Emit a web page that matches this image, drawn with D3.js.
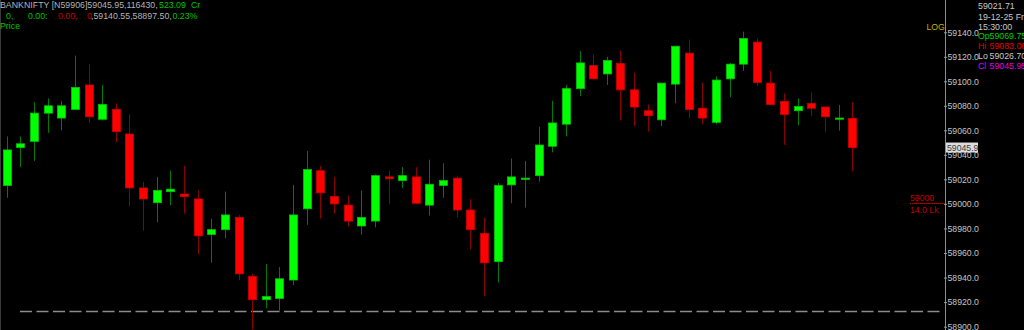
<!DOCTYPE html>
<html>
<head>
<meta charset="utf-8">
<script src="https://cdn.jsdelivr.net/npm/d3@7"></script>
<style>
  html, body { margin: 0; padding: 0; background: #000; }
  svg { display: block; }
  text { font-family: "Liberation Sans", Arial, sans-serif; }
</style>
</head>
<body>
<script>
// 5 minute candles, BANKNIFTY 19-12-25
var opens = [59015, 59046, 59051, 59074, 59070, 59077, 59097, 59069, 59077, 59057,
  59013, 59001, 59010, 59008, 59004, 58975, 58979, 58989, 58941, 58922,
  58923, 58938, 58996, 59027, 59006, 58999, 58982, 58986, 59022, 59019,
  59022, 58999, 59015, 59021, 58995, 58976, 58953, 59015.5, 59020, 59023,
  59047, 59065, 59094, 59113, 59106, 59114.5, 59093, 59076, 59068.6, 59097.7,
  59123, 59078, 59066.5, 59102, 59114, 59132, 59098.5, 59083.6, 59076, 59082,
  59079, 59069, 59069.75];
var highs = [59055, 59055, 59083, 59086, 59084, 59121, 59114, 59097, 59082, 59073,
  59018, 59022, 59027, 59031, 59011, 58988, 59010, 58991, 58943, 58951,
  58948.5, 59015.5, 59043, 59031, 59022, 59007, 59011, 59024, 59027, 59030,
  59030, 59036, 59033, 59023, 59004, 58989, 59017, 59037, 59035, 59063,
  59084, 59097, 59124.5, 59122, 59120, 59125, 59107, 59081, 59098.5, 59128.6,
  59134, 59099, 59104, 59115, 59140.55, 59135, 59108.5, 59090, 59086, 59091,
  59079, 59080.6, 59083];
var lows = [59005, 59030, 59035, 59058, 59060, 59077, 59066, 59068, 59050, 58998,
  58978, 58985, 58999, 58992, 58959, 58952, 58972, 58938, 58897.5, 58915,
  58913, 58934, 58983, 58988, 58992, 58981.5, 58975, 58981, 59000, 59013,
  59000, 58990.5, 59005, 58989, 58963, 58925, 58936, 59000.5, 58997, 59018,
  59042, 59055, 59088, 59102, 59097, 59068, 59063.5, 59059, 59063.5, 59082,
  59070, 59065, 59065, 59087, 59108.5, 59096, 59081, 59048, 59064, 59071.6,
  59058.6, 59059.7, 59026.7];
var closes = [59044, 59049, 59074, 59080, 59080, 59095, 59071, 59081, 59059, 59013,
  59004, 59011, 59012, 59006, 58974, 58979, 58991, 58943, 58922, 58924.5,
  58939, 58991, 59028, 59009, 59000, 58986, 58989, 59023, 59020.5, 59023,
  59000.5, 59016, 59019, 58995, 58979, 58952, 59015, 59022, 59021, 59048,
  59066, 59094, 59115, 59102, 59117, 59093, 59079, 59072, 59098.5, 59128.6,
  59077, 59070, 59101, 59114, 59135, 59099, 59081, 59073, 59079.5, 59078,
  59071, 59070, 59045.95];

// candle start times (10:15 .. 15:25)
var times = opens.map(function(d, i) {
  return d3.timeFormat("%H:%M")(new Date(2025, 11, 19, 10, 15 + 5 * i));
});

var priceTicks = [58900, 58920, 58940, 58960, 58980, 59000, 59020, 59040, 59060, 59080, 59100, 59120, 59140];
var supportLevel = 58913;
var alertLevel = 59000;
var lastPrice = 59045.95;

var headerLine1 = [
  {t: "BANKNIFTY [N59906]59045.95,116430,", c: "#b4b4b4"},
  {t: "523.09", c: "#00c000"},
  {t: "Cr", c: "#00c000"}
];
var infoLines = [
  [{t: "59021.71", c: "#c8c8c8"}],
  [{t: "19-12-25 Fri", c: "#c8c8c8"}],
  [{t: "15:30:00", c: "#c8c8c8"}],
  [{t: "Op", c: "#00d000"}, {t: "59069.75", c: "#00d000"}],
  [{t: "Hi", c: "#e00000"}, {t: "59083.00", c: "#e00000"}],
  [{t: "Lo", c: "#c8c8c8"}, {t: "59026.70", c: "#c8c8c8"}],
  [{t: "Cl", c: "#e000e0"}, {t: "59045.95", c: "#e000e0"}]
];

var W = 1024, H = 330;
var AXIS_X = 945.5;
var BODY_W = 8;

var svg = d3.select("body").append("svg")
  .attr("width", W).attr("height", H)
  .style("background", "#000");

var x = d3.scalePoint().domain(times).range([6.7, 852.3]);
var y = d3.scaleLog().domain([58900, 59140]).range([326.7, 32.3]);

// left border
svg.append("line")
  .attr("x1", 0.5).attr("x2", 0.5).attr("y1", 0).attr("y2", H)
  .style("stroke", "#3a3a3a");

// dashed level line
svg.append("line")
  .attr("x1", 20).attr("x2", AXIS_X - 2)
  .attr("y1", Math.round(y(supportLevel)) + 0.5).attr("y2", Math.round(y(supportLevel)) + 0.5)
  .style("stroke", "#8c8c8c")
  .style("stroke-width", 1.5)
  .style("stroke-dasharray", "12,4.5");

// candles
var candles = svg.append("g").selectAll("g")
  .data(times)
  .enter().append("g")
  .attr("class", "candle");

candles.append("line")
  .attr("x1", function(d) { return Math.round(x(d)) + 0.5; })
  .attr("x2", function(d) { return Math.round(x(d)) + 0.5; })
  .attr("y1", function(d, i) { return y(highs[i]); })
  .attr("y2", function(d, i) { return y(lows[i]); })
  .style("stroke", function(d, i) { return closes[i] >= opens[i] ? "#007a00" : "#8c0000"; })
  .style("stroke-width", 1);

candles.append("rect")
  .attr("x", function(d) { return Math.round(x(d)) + 0.5 - BODY_W / 2; })
  .attr("y", function(d, i) { return y(Math.max(opens[i], closes[i])); })
  .attr("width", BODY_W)
  .attr("height", function(d, i) {
    return Math.max(1, Math.abs(y(opens[i]) - y(closes[i])));
  })
  .style("fill", function(d, i) { return closes[i] >= opens[i] ? "#00ff00" : "#ff0000"; })
  .style("stroke", function(d, i) { return closes[i] >= opens[i] ? "#00c400" : "#c80000"; })
  .style("stroke-width", 0.8);

// price axis
svg.append("line")
  .attr("x1", AXIS_X).attr("x2", AXIS_X).attr("y1", 0).attr("y2", H)
  .style("stroke", "#8c8c8c");

var axis = svg.append("g")
  .attr("transform", "translate(" + (AXIS_X - 1.5) + ",0)")
  .call(d3.axisRight(y).tickValues(priceTicks).tickFormat(d3.format(".1f"))
    .tickSize(3).tickPadding(0.5));
axis.select(".domain").remove();
axis.selectAll(".tick line").style("stroke", "#9a9a9a");
axis.selectAll(".tick text")
  .style("fill", "#c4c4c4")
  .style("font-size", "8.7px")
  .style("font-family", "'Liberation Sans', Arial, sans-serif");

// last price marker
var lp = svg.append("g").attr("transform", "translate(946," + (y(lastPrice) - 5) + ")");
lp.append("rect").attr("width", 32).attr("height", 10).style("fill", "#dcdcdc");
lp.append("text").attr("x", 1).attr("y", 8.3)
  .style("font-size", "8.7px").style("fill", "#3a3a3a")
  .text(d3.format(".1f")(Math.floor(lastPrice * 10) / 10));

// alert level
svg.append("line")
  .attr("x1", 910).attr("x2", AXIS_X - 1)
  .attr("y1", Math.round(y(alertLevel)) - 0.5).attr("y2", Math.round(y(alertLevel)) - 0.5)
  .style("stroke", "#c00000")
  .style("stroke-dasharray", "1,1");
svg.append("text").attr("x", 910).attr("y", y(alertLevel) - 3)
  .style("font-size", "8.7px").style("fill", "#c00000").text(alertLevel);
svg.append("text").attr("x", 910).attr("y", y(alertLevel) + 8.7)
  .style("font-size", "8.7px").style("fill", "#c00000").text("14.0 Lk");

svg.append("text").attr("x", 926.5).attr("y", 29.5)
  .style("font-size", "8.7px").style("fill", "#c8b000").text("LOG");

// header, top left
var hdr = svg.append("g").style("font-size", "8.8px");
hdr.append("text").attr("x", 0).attr("y", 7.6).style("fill", headerLine1[0].c).text(headerLine1[0].t);
hdr.append("text").attr("x", 159).attr("y", 7.6).style("fill", headerLine1[1].c).text(headerLine1[1].t);
hdr.append("text").attr("x", 191).attr("y", 7.6).style("fill", headerLine1[2].c).text(headerLine1[2].t);

var headerLine2 = [
  {t: "0,", c: "#00c000", x: 6},
  {t: "0.00:", c: "#00c000", x: 28},
  {t: "0.00,", c: "#c00000", x: 58},
  {t: "0", c: "#c00000", x: 87},
  {t: ",59140.55,58897.50,", c: "#b4b4b4", x: 91},
  {t: "0.23%", c: "#00c000", x: 172.5}
];
hdr.selectAll(".h2").data(headerLine2).enter().append("text")
  .attr("class", "h2")
  .attr("x", function(d) { return d.x; })
  .attr("y", 19.4)
  .style("fill", function(d) { return d.c; })
  .text(function(d) { return d.t; });
hdr.append("text").attr("x", 0).attr("y", 28.6).style("fill", "#00c000").text("Price");

// info block, top right
var infoY = [8.5, 19.5, 30, 39, 49, 59, 68.5];
var info = svg.append("g").style("font-size", "8.8px");
infoLines.forEach(function(line, i) {
  line.forEach(function(seg, j) {
    info.append("text")
      .attr("x", j === 0 ? 978 : 989.5)
      .attr("y", infoY[i])
      .style("fill", seg.c)
      .text(seg.t);
  });
});
</script>
</body>
</html>
